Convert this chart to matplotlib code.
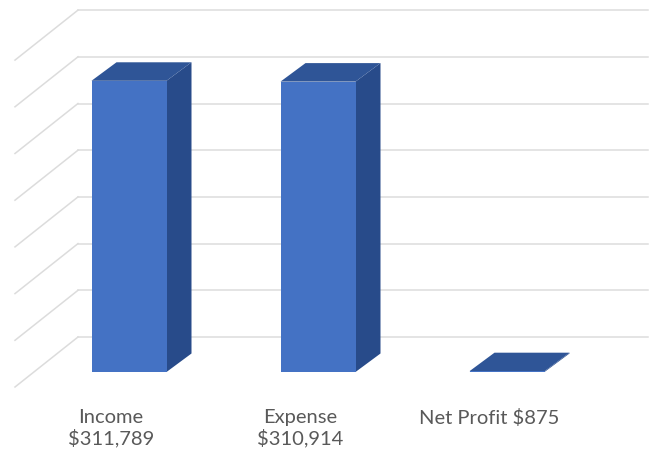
import matplotlib.pyplot as plt
from matplotlib.patches import Polygon

# chart data
categories = ['Income', 'Expense', 'Net Profit']
values = [311789, 310914, 875]
tick_labels = ['Income\n$311,789', 'Expense\n$310,914', 'Net Profit $875']
grid_step = 50000
grid_max = 350000

# colours
front_col = '#4472C4'
side_col = '#284B8A'
top_col = '#2F5597'
grid_col = '#DCDCDC'
text_col = '#595959'

fig = plt.figure(figsize=(6.52, 4.55), dpi=100)
ax = fig.add_axes([0, 0, 1, 1])

# one category step is ~189 px, one grid step is ~46.7 px
px = 1 / 189.0
unit = grid_step / 46.7
ax.set_xlim(-129 * px, (652 - 129) * px)
ax.set_ylim(-(455 - 372) * unit, 372 * unit)
ax.axis('off')

# 3d look: depth offsets
ddx = 25 * px
ddy = 18.5 * unit
wall_y0 = 35 * unit
wall_x0 = (78 - 129) * px
wall_x1 = (648 - 129) * px
side_dx = -63 * px
side_dy = -50 * unit

# back wall grid + side wall lines
for v in range(0, grid_max + 1, grid_step):
    y = wall_y0 + v
    ax.plot([wall_x0, wall_x1], [y, y], color=grid_col, lw=1.1, zorder=1)
    ax.plot([wall_x0, wall_x0 + side_dx], [y, y + side_dy], color=grid_col, lw=1.1, zorder=1)

# bars
w = 75 * px
for i, v in enumerate(values):
    l, r = i - w / 2, i + w / 2
    side = Polygon([(r, 0), (r + ddx, ddy), (r + ddx, v + ddy), (r, v)],
                   closed=True, facecolor=side_col, edgecolor='none', zorder=3)
    top = Polygon([(l, v), (l + ddx, v + ddy), (r + ddx, v + ddy), (r, v)],
                  closed=True, facecolor=top_col, edgecolor='none', zorder=3)
    ax.add_patch(side)
    ax.add_patch(top)
    ax.bar(i, v, width=w, color=front_col, zorder=4)

# category labels
for i, lab in enumerate(tick_labels):
    ax.text(i - 18 * px, -37 * unit, lab, ha='center', va='top',
            fontsize=14.5, family='Lato', color=text_col, linespacing=1.15)

plt.savefig('out.png', dpi=100)
